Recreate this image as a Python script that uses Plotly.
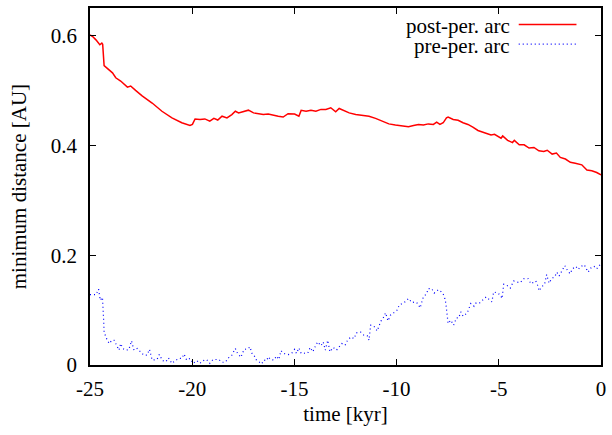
import plotly.graph_objects as go

# post-perihelion arc (red solid)
post_t = [-25.0, -24.87, -24.71, -24.52, -24.42, -24.38, -24.31, -24.06, -23.90, -23.74, -23.50, -23.17,
          -23.01, -22.77, -22.45, -21.96, -21.48, -20.99, -20.51, -20.11, -19.99, -19.86, -19.62, -19.38,
          -19.14, -18.94, -18.75, -18.54, -18.30, -18.06, -17.89, -17.73, -17.49, -17.25, -17.00, -16.76,
          -16.52, -16.28, -16.04, -15.79, -15.55, -15.31, -14.99, -14.78, -14.67, -14.43, -14.19, -13.95,
          -13.70, -13.46, -13.22, -12.98, -12.81, -12.49, -12.32, -12.00, -11.68, -11.35, -11.03, -10.71,
          -10.38, -10.06, -9.74, -9.42, -9.17, -8.93, -8.69, -8.45, -8.20, -8.04, -7.88, -7.72, -7.56,
          -7.48, -7.23, -6.99, -6.75, -6.51, -6.27, -6.02, -5.70, -5.38, -5.21, -4.89, -4.81, -4.57,
          -4.33, -4.24, -4.00, -3.76, -3.52, -3.28, -3.04, -2.80, -2.63, -2.39, -2.18, -1.99, -1.74,
          -1.50, -1.26, -0.94, -0.69, -0.45, -0.21, 0.0]
post_d = [0.601, 0.598, 0.592, 0.583, 0.586, 0.584, 0.545, 0.536, 0.532, 0.523, 0.517, 0.506,
          0.508, 0.500, 0.490, 0.477, 0.462, 0.450, 0.441, 0.436, 0.438, 0.448, 0.447, 0.448,
          0.444, 0.449, 0.446, 0.453, 0.450, 0.456, 0.462, 0.459, 0.462, 0.464, 0.459, 0.457,
          0.456, 0.457, 0.4545, 0.453, 0.4515, 0.4575, 0.457, 0.453, 0.4636, 0.462, 0.464, 0.462,
          0.4654, 0.4654, 0.4684, 0.461, 0.467, 0.462, 0.459, 0.456, 0.455, 0.453, 0.449, 0.444,
          0.439, 0.437, 0.436, 0.434, 0.436, 0.438, 0.437, 0.439, 0.438, 0.442, 0.438, 0.441, 0.450,
          0.4515, 0.447, 0.4455, 0.441, 0.438, 0.433, 0.427, 0.423, 0.419, 0.420, 0.413, 0.417, 0.409,
          0.405, 0.409, 0.401, 0.401, 0.395, 0.396, 0.390, 0.3886, 0.391, 0.384, 0.386, 0.378, 0.375,
          0.369, 0.3675, 0.3645, 0.355, 0.3536, 0.3505, 0.346]

# pre-perihelion arc (blue dotted)
pre_t = [-25.0, -24.87, -24.71, -24.58, -24.50, -24.39, -24.35, -24.33, -24.31, -24.19, -24.06, -23.93,
         -23.82, -23.71, -23.58, -23.50, -23.39, -23.26, -23.10, -22.97, -22.85, -22.69, -22.53, -22.37,
         -22.21, -22.09, -21.96, -21.72, -21.61, -21.45, -21.29, -21.16, -21.00, -20.83, -20.67, -20.51,
         -20.40, -20.27, -20.11, -19.95, -19.78, -19.62, -19.46, -19.30, -19.14, -18.98, -18.70, -18.54,
         -18.38, -18.22, -18.06, -17.89, -17.78, -17.62, -17.46, -17.30, -17.17, -17.09, -16.98, -16.88,
         -16.76, -16.60, -16.49, -16.36, -16.28, -16.17, -16.00, -15.88, -15.76, -15.66, -15.52, -15.28,
         -15.12, -14.99, -14.90, -14.78, -14.67, -14.50, -14.34, -14.23, -14.10, -13.97, -13.86, -13.70,
         -13.59, -13.49, -13.37, -13.26, -13.10, -12.94, -12.81, -12.68, -12.52, -12.40, -12.24, -12.08,
         -11.97, -11.76, -11.60, -11.43, -11.35, -11.27, -11.11, -10.95, -10.83, -10.74, -10.62, -10.54,
         -10.42, -10.30, -10.14, -9.98, -9.87, -9.70, -9.58, -9.42, -9.25, -9.12, -8.96, -8.85, -8.69,
         -8.53, -8.45, -8.28, -8.16, -7.96, -7.80, -7.72, -7.64, -7.59, -7.54, -7.51, -7.48, -7.35,
         -7.21, -7.07, -6.96, -6.86, -6.75, -6.54, -6.37, -6.21, -6.11, -5.94, -5.78, -5.62, -5.46,
         -5.34, -5.25, -5.05, -4.92, -4.84, -4.76, -4.60, -4.44, -4.27, -4.11, -3.95, -3.79, -3.56,
         -3.43, -3.19, -3.10, -3.03, -2.91, -2.76, -2.66, -2.54, -2.42, -2.26, -2.16, -2.05, -1.93,
         -1.77, -1.64, -1.51, -1.40, -1.23, -1.12, -0.98, -0.82, -0.69, -0.63, -0.47, -0.34, -0.21,
         -0.05, 0.0]
pre_d = [0.128, 0.128, 0.128, 0.138, 0.118, 0.123, 0.105, 0.080, 0.060, 0.048, 0.039, 0.045,
         0.045, 0.036, 0.027, 0.039, 0.030, 0.027, 0.028, 0.044, 0.027, 0.030, 0.024, 0.018,
         0.018, 0.0285, 0.009, 0.010, 0.019, 0.008, 0.006, 0.013, 0.003, 0.008, 0.012, 0.012,
         0.020, 0.009, 0.012, 0.003, 0.008, 0.003, 0.008, 0.010, 0.003, 0.010, 0.010, 0.005,
         0.005, 0.013, 0.018, 0.030, 0.021, 0.014, 0.0285, 0.029, 0.033, 0.022, 0.018, 0.010,
         0.006, 0.002, 0.009, 0.008, 0.015, 0.010, 0.009, 0.0163, 0.010, 0.026, 0.021, 0.019,
         0.022, 0.0285, 0.021, 0.031, 0.021, 0.021, 0.022, 0.032, 0.024, 0.0345, 0.042, 0.035,
         0.042, 0.027, 0.045, 0.024, 0.032, 0.027, 0.033, 0.039, 0.036, 0.045, 0.051, 0.048,
         0.0586, 0.060, 0.054, 0.053, 0.045, 0.0725, 0.0707, 0.062, 0.074, 0.0816, 0.0876, 0.095,
         0.0803, 0.0907, 0.095, 0.0997, 0.109, 0.112, 0.115, 0.121, 0.1135, 0.115, 0.112, 0.104, 0.124,
         0.130, 0.139, 0.139, 0.131, 0.137, 0.133, 0.129, 0.121, 0.112, 0.0967, 0.0876, 0.0756, 0.0816,
         0.0725, 0.0858, 0.0858, 0.0967, 0.0888, 0.095, 0.112, 0.107, 0.113, 0.113, 0.119, 0.124, 0.119,
         0.115, 0.133, 0.131, 0.127, 0.121, 0.147, 0.145, 0.140, 0.153, 0.151, 0.150, 0.157, 0.157,
         0.148, 0.153, 0.145, 0.135, 0.142, 0.147, 0.1645, 0.149, 0.157, 0.161, 0.169, 0.162, 0.170,
         0.181, 0.172, 0.166, 0.175, 0.1795, 0.174, 0.1795, 0.1826, 0.175, 0.169, 0.178, 0.1795, 0.175,
         0.183, 0.185]

x_ticks = [-25, -20, -15, -10, -5, 0]
x_tick_labels = ["-25", "-20", "-15", "-10", "-5", "0"]
y_ticks = [0, 0.2, 0.4, 0.6]
y_tick_labels = ["0", "0.2", "0.4", "0.6"]
series_names = ["post-per. arc", "pre-per. arc"]
x_title = "time [kyr]"
y_title = "minimum distance [AU]"

FONT = "Liberation Serif"

fig = go.Figure()
fig.add_trace(go.Scatter(x=post_t, y=post_d, mode="lines", name=series_names[0],
                         line=dict(color="#ff0000", width=1.5), showlegend=False))
fig.add_trace(go.Scatter(x=pre_t, y=pre_d, mode="lines", name=series_names[1],
                         line=dict(color="#0000ff", width=1.2, dash="1px,3px"), showlegend=False))

axis_common = dict(showline=True, linecolor="black", linewidth=1.5, mirror="ticks",
                   ticks="inside", ticklen=6, tickwidth=1.2, tickcolor="black",
                   showgrid=False, zeroline=False,
                   tickfont=dict(family=FONT, size=21, color="black"))

fig.update_xaxes(range=[-25, 0], tickvals=x_ticks, ticktext=x_tick_labels,
                 title=dict(text=x_title, font=dict(family=FONT, size=21, color="black"), standoff=6),
                 ticklabelstandoff=4, **axis_common)
fig.update_yaxes(range=[0, 0.65], tickvals=y_ticks, ticktext=y_tick_labels,
                 ticklabelstandoff=7, **axis_common)

# y-axis title placed as rotated text at the left edge
fig.add_annotation(x=-0.1395, y=0.5, xref="paper", yref="paper", text=y_title, showarrow=False,
                   textangle=-90, xanchor="center", yanchor="middle",
                   font=dict(family=FONT, size=21, color="black"))

# legend (gnuplot style: text right-aligned, sample on the right)
leg_rows = [(0.950, 0.954, dict(color="#ff0000", width=1.5)),
            (0.894, 0.899, dict(color="#0000ff", width=1.2, dash="1px,3px"))]
for name, (ty, ly, ln) in zip(series_names, leg_rows):
    fig.add_annotation(x=0.823, y=ty, xref="paper", yref="paper", text=name, showarrow=False,
                       xanchor="right", yanchor="middle", borderpad=0,
                       font=dict(family=FONT, size=21, color="black"))
    fig.add_shape(type="line", xref="paper", yref="paper", x0=0.839, x1=0.952, y0=ly, y1=ly, line=ln)

fig.update_layout(width=612, height=435, margin=dict(l=90, r=6, t=7, b=70),
                  paper_bgcolor="white", plot_bgcolor="white", showlegend=False,
                  font=dict(family=FONT))

fig.write_html("out.html", config={"displayModeBar": False},
               post_script="document.body.style.margin='0';")
